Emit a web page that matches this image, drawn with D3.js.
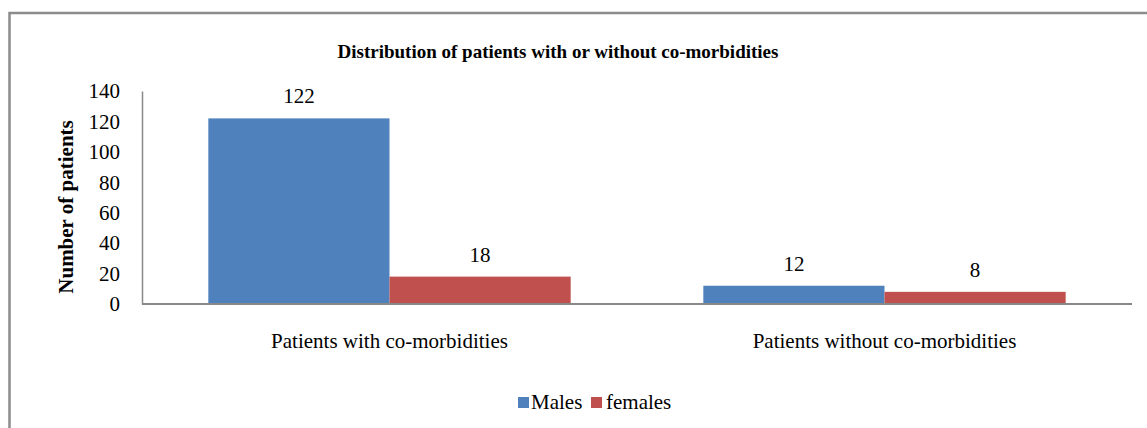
<!DOCTYPE html>
<html><head><meta charset="utf-8">
<script src="https://cdn.jsdelivr.net/npm/d3@7"></script>
<style>body{margin:0;background:#fff}svg{display:block}text{font-family:"Liberation Serif","Times New Roman",serif;fill:#000}</style>
</head><body><svg id="c" width="1147" height="428"></svg>
<script>
const categories = ["Patients with co-morbidities", "Patients without co-morbidities"];
const seriesNames = ["Males", "females"];
const males = [122, 12];
const females = [18, 8];
const yTicks = [0, 20, 40, 60, 80, 100, 120, 140];
const colors = ["#4F81BD", "#C0504D"];

const svg = d3.select("#c");
svg.append("rect").attr("x", 9.5).attr("y", 13).attr("width", 1150).attr("height", 430)
  .attr("fill", "none").attr("stroke", "#8c8c8c").attr("stroke-width", 2.5);

const pLeft = 142, pRight = 1132, pTop = 91, pBottom = 304;
const x0 = d3.scaleBand().domain(categories).range([pLeft, pRight]).paddingInner(0.268).paddingOuter(0.134);
const x1 = d3.scaleBand().domain(seriesNames).range([0, x0.bandwidth()]);
const y = d3.scaleLinear().domain([0, 140]).range([pBottom, pTop]);

svg.append("text").attr("x", 558).attr("y", 58).attr("text-anchor", "middle")
  .attr("font-weight", "bold").attr("font-size", 19).text("Distribution of patients with or without co-morbidities");

const yAxis = d3.axisLeft(y).tickValues(yTicks).tickSize(0).tickPadding(22);
const gy = svg.append("g").attr("transform", `translate(${pLeft},0)`).call(yAxis);
gy.select(".domain").attr("stroke", "#888").attr("stroke-width", 1.5);
gy.selectAll("text").attr("font-size", 21).attr("fill", "#000").style("font-family", "'Liberation Serif', serif");

const data = categories.map((c, i) => ({c, vals: [males[i], females[i]]}));
const g = svg.append("g");
data.forEach(d => {
  d.vals.forEach((v, j) => {
    const bx = x0(d.c) + x1(seriesNames[j]);
    g.append("rect").attr("x", bx).attr("y", y(v)).attr("width", x1.bandwidth()).attr("height", y(0) - y(v)).attr("fill", colors[j]);
    g.append("text").attr("x", bx + x1.bandwidth() / 2).attr("y", y(v) - 15).attr("text-anchor", "middle")
      .attr("font-size", 21).text(v);
  });
});

svg.append("line").attr("x1", pLeft).attr("x2", pRight).attr("y1", pBottom).attr("y2", pBottom).attr("stroke", "#888").attr("stroke-width", 2);

const xAxis = d3.axisBottom(x0).tickSize(0).tickPadding(29);
const gx = svg.append("g").attr("transform", `translate(0,${pBottom})`).call(xAxis);
gx.select(".domain").remove();
gx.selectAll("text").attr("font-size", 21).attr("fill", "#000").style("font-family", "'Liberation Serif', serif");

svg.append("text").attr("transform", "translate(73,207) rotate(-90)").attr("text-anchor", "middle")
  .attr("font-weight", "bold").attr("font-size", 21).text("Number of patients");

const legSq = [518, 591];
const legTx = [531, 606];
seriesNames.forEach((s, j) => {
  svg.append("rect").attr("x", legSq[j]).attr("y", 397).attr("width", 11).attr("height", 11).attr("fill", colors[j]);
  svg.append("text").attr("x", legTx[j]).attr("y", 409).attr("font-size", 21).text(s);
});
</script></body></html>
